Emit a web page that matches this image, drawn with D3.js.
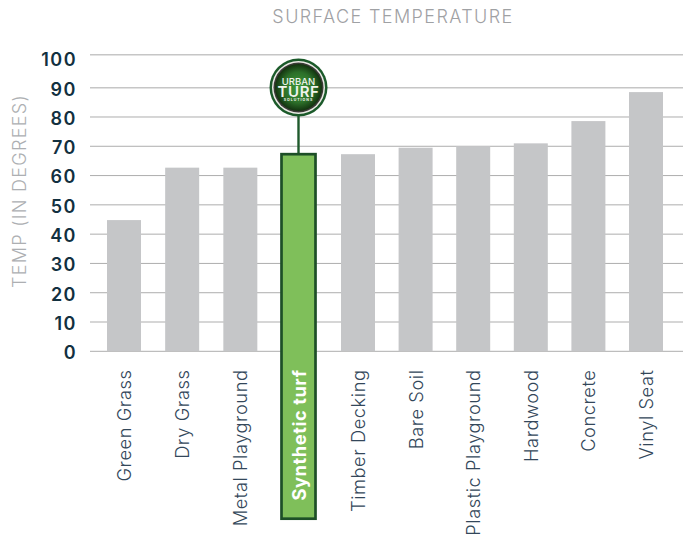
<!DOCTYPE html>
<html><head><meta charset="utf-8">
<script src="https://cdn.jsdelivr.net/npm/d3@7"></script>
<style>html,body{margin:0;padding:0;background:#fff}svg{display:block}</style></head>
<body><svg id="c" width="690" height="538"></svg>
<script>
const categories=["Green Grass","Dry Grass","Metal Playground","Synthetic turf","Timber Decking","Bare Soil","Plastic Playground","Hardwood","Concrete","Vinyl Seat"];
const values=[44.8,62.7,62.7,67.3,67.3,69.5,70,71,78.6,88.5];
const ticks=[0,10,20,30,40,50,60,70,80,90,100];
const highlight="Synthetic turf";
const title="SURFACE TEMPERATURE";
const yTitle="TEMP (IN DEGREES)";
const font="Inter, 'Open Sans', sans-serif";
const svg=d3.select("#c");
const xc=d3.scaleLinear().domain([0,3,4,9]).range([124,298.5,358,646]);
const bw=34;
const xOf=c=>xc(categories.indexOf(c));
const y=d3.scaleLinear().domain([0,90,100]).range([351.3,87.7,54.7]);
svg.append("text").attr("x",393).attr("y",23).attr("text-anchor","middle").attr("font-family",font).attr("font-size",18).attr("font-weight",300).attr("letter-spacing",1.4).attr("fill","#9fa1a4").text(title);
svg.append("text").attr("transform","translate(26,191) rotate(-90)").attr("text-anchor","middle").attr("font-family",font).attr("font-size",18).attr("font-weight",300).attr("letter-spacing",1.3).attr("fill","#adafb2").text(yTitle);
const axisY=d3.axisLeft(y).tickValues(ticks).tickSize(0).tickPadding(0);
const gy=svg.append("g").attr("transform","translate(77,0)").call(axisY);
gy.select(".domain").remove();
gy.selectAll("text").attr("font-family",font).attr("font-size",18).attr("font-weight",600).attr("letter-spacing",1.5).attr("fill","#12303f").attr("dy",null).attr("dominant-baseline","central")
  .attr("y",d=>d===100?4.5:0.8);
svg.append("g").selectAll("line").data(ticks).join("line").attr("x1",90).attr("x2",683).attr("y1",d=>y(d)).attr("y2",d=>y(d))
  .attr("stroke",d=>d>=90?"#c6c6c6":"#adadad").attr("stroke-width",d=>d>=90?1.4:1);
const isH=d=>d===highlight;
const val=c=>values[categories.indexOf(c)];
svg.append("g").selectAll("rect").data(categories.filter(c=>!isH(c))).join("rect")
 .attr("x",d=>xOf(d)-bw/2).attr("width",bw).attr("y",d=>y(val(d))).attr("height",d=>y(0)-y(val(d))).attr("fill","#c5c6c8");
const hv=val(highlight), cx=xOf(highlight);
const logoY=87.5;
svg.append("line").attr("x1",cx).attr("x2",cx).attr("y1",logoY).attr("y2",y(hv)).attr("stroke","#1f5a2c").attr("stroke-width",2.4);
svg.append("rect").attr("x",cx-bw/2).attr("width",bw).attr("y",y(hv)).attr("height",518.7-y(hv)).attr("fill","#7fbf5a").attr("stroke","#1d4f27").attr("stroke-width",2.7);
const defs=svg.append("defs");
const rg=defs.append("radialGradient").attr("id","lg");
rg.append("stop").attr("offset","0%").attr("stop-color","#3f9a38");
rg.append("stop").attr("offset","65%").attr("stop-color","#2c6f29");
rg.append("stop").attr("offset","100%").attr("stop-color","#12320f");
const lg=svg.append("g").attr("transform",`translate(${cx},${logoY})`);
lg.append("circle").attr("r",29).attr("fill","#1b5a2a");
lg.append("circle").attr("r",26.5).attr("fill","#e9e9e4");
lg.append("circle").attr("r",25).attr("fill","#3a3a36");
lg.append("circle").attr("r",23.5).attr("fill","url(#lg)");
const lt=(t,yy,s,w,ls)=>lg.append("text").attr("y",yy).attr("text-anchor","middle").attr("font-family",font).attr("font-size",s).attr("font-weight",w).attr("letter-spacing",ls).attr("fill","#f1f4ee").text(t);
lt("URBAN",-2.5,9.5,500,0);lt("TURF",9.5,15,600,0.6);lt("SOLUTIONS",13.5,3.5,700,1);
categories.forEach(c=>{
 const h=isH(c);
 svg.append("text").attr("transform",`translate(${xOf(c)},369.5) rotate(-90)`).attr("text-anchor","end").attr("dominant-baseline","central")
  .attr("font-family",font).attr("font-size",18.3).attr("letter-spacing",.55).attr("font-weight",h?700:300).attr("fill",h?"#fff":"#33475a").text(c);
});
</script></body></html>
